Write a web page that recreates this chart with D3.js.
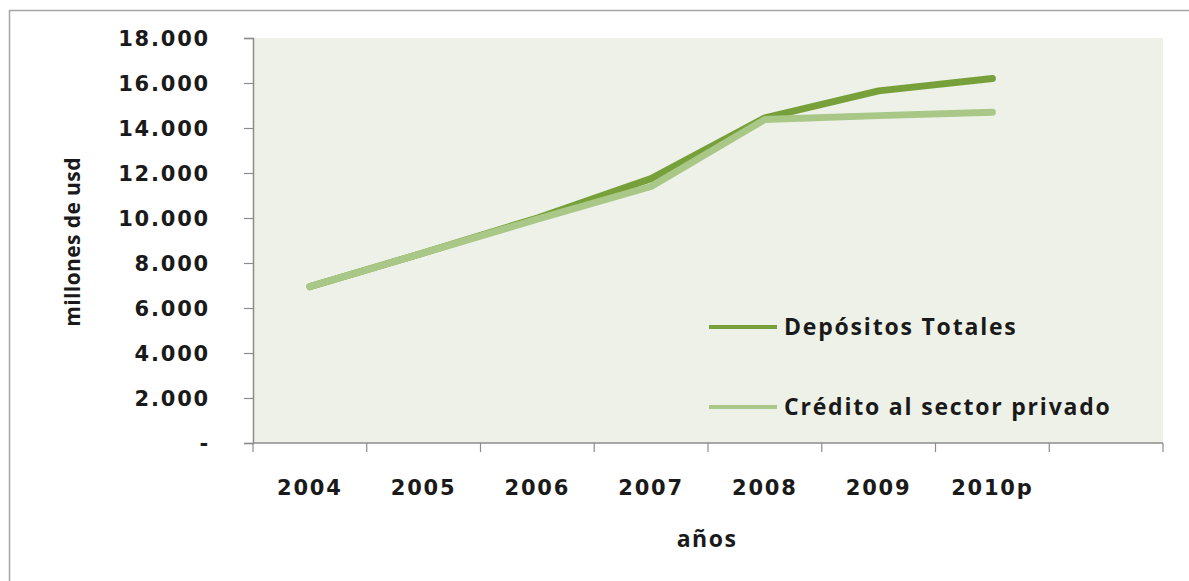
<!DOCTYPE html>
<html>
<head>
<meta charset="utf-8">
<script src="https://cdn.jsdelivr.net/npm/d3@7"></script>
<style>
  html, body { margin: 0; padding: 0; background: #ffffff; }
  svg { display: block; }
</style>
</head>
<body>
<svg id="chart" width="1189" height="581"></svg>
<script>
// Años (the last slot of the axis is left empty)
const years = ["2004", "2005", "2006", "2007", "2008", "2009", "2010p", ""];
const depositos = [6950, 8450, 10000, 11750, 14450, 15650, 16200];
const credito   = [6950, 8450,  9950, 11400, 14380, 14550, 14700];
const yTicks = [0, 2000, 4000, 6000, 8000, 10000, 12000, 14000, 16000, 18000];
const seriesNames = ["Depósitos Totales", "Crédito al sector privado"];
const seriesColors = ["#77a03a", "#a9c887"];

const svg = d3.select("#chart");
const W = 1189, H = 581;
const plot = { left: 253, right: 1163, top: 38, bottom: 443 };

// outer frame (top and left edges)
svg.append("path")
  .attr("d", `M9.5,${H} V10.5 H${W}`)
  .attr("fill", "none")
  .attr("stroke", "#a6a6a6")
  .attr("stroke-width", 1.5);

// plot background
svg.append("rect")
  .attr("x", plot.left).attr("y", plot.top)
  .attr("width", plot.right - plot.left)
  .attr("height", plot.bottom - plot.top)
  .attr("fill", "#eef1e7");

const x = d3.scaleBand().domain(years).range([plot.left, plot.right]).padding(0);
const y = d3.scaleLinear().domain([0, 18000]).range([plot.bottom, plot.top]);

const fmt = v => v === 0 ? "-" : d3.format(",")(v).replace(/,/g, ".");

const tickFont = sel => sel
  .attr("font-family", "DejaVu Sans")
  .attr("font-weight", "bold")
  .attr("font-size", 21)
  .attr("letter-spacing", 1.8)
  .attr("fill", "#1a1a1a");

// y axis
const yAxis = svg.append("g")
  .attr("transform", `translate(${plot.left},0)`)
  .call(d3.axisLeft(y).tickValues(yTicks).tickFormat(fmt).tickSizeOuter(0).tickSize(9).tickPadding(34));
yAxis.select(".domain").attr("stroke", "#8c8c8c").attr("stroke-width", 1.5);
yAxis.selectAll(".tick line").attr("stroke", "#8c8c8c").attr("stroke-width", 1.2);
yAxis.selectAll(".tick text").call(tickFont).attr("dy", "0.36em");

// x axis: ticks on band boundaries, labels at band centres
const xAxisG = svg.append("g").attr("transform", `translate(0,${plot.bottom})`);
xAxisG.append("line")
  .attr("x1", plot.left).attr("x2", plot.right)
  .attr("stroke", "#8c8c8c").attr("stroke-width", 1.5);
const bounds = years.map(d => x(d)).concat([x(years[years.length - 1]) + x.bandwidth()]);
xAxisG.selectAll("line.tk").data(bounds).join("line")
  .attr("class", "tk")
  .attr("x1", d => d).attr("x2", d => d)
  .attr("y1", 0).attr("y2", 9)
  .attr("stroke", "#8c8c8c").attr("stroke-width", 1.2);
xAxisG.selectAll("text").data(years).join("text")
  .attr("x", d => x(d) + x.bandwidth() / 2)
  .attr("y", 52)
  .attr("text-anchor", "middle")
  .call(tickFont)
  .text(d => d);

// axis titles
svg.append("text")
  .attr("transform", `translate(80,242) rotate(-90)`)
  .attr("text-anchor", "middle")
  .attr("font-family", "Open Sans")
  .attr("font-weight", "bold")
  .attr("font-size", 21)
  .attr("letter-spacing", 0.4)
  .attr("fill", "#1a1a1a")
  .text("millones de usd");

svg.append("text")
  .attr("x", 707).attr("y", 547)
  .attr("text-anchor", "middle")
  .attr("font-family", "Open Sans")
  .attr("font-weight", "bold")
  .attr("font-size", 23)
  .attr("letter-spacing", 1.5)
  .attr("fill", "#1a1a1a")
  .text("años");

// series lines (crédito drawn on top)
const line = d3.line()
  .x((d, i) => x(years[i]) + x.bandwidth() / 2)
  .y(d => y(d));

[depositos, credito].forEach((vals, k) => {
  svg.append("path")
    .datum(vals)
    .attr("d", line)
    .attr("fill", "none")
    .attr("stroke", seriesColors[k])
    .attr("stroke-width", 7)
    .attr("stroke-linecap", "round")
    .attr("stroke-linejoin", "round");
});

// legend
const legendY = [327, 407];
seriesNames.forEach((name, i) => {
  svg.append("line")
    .attr("x1", 709).attr("x2", 777)
    .attr("y1", legendY[i]).attr("y2", legendY[i])
    .attr("stroke", seriesColors[i])
    .attr("stroke-width", 4);
  svg.append("text")
    .attr("x", 784).attr("y", legendY[i] + 8)
    .attr("font-family", "Open Sans")
    .attr("font-weight", "bold")
    .attr("font-size", 23)
    .attr("letter-spacing", 1.8)
    .attr("fill", "#1a1a1a")
    .text(name);
});
</script>
</body>
</html>
